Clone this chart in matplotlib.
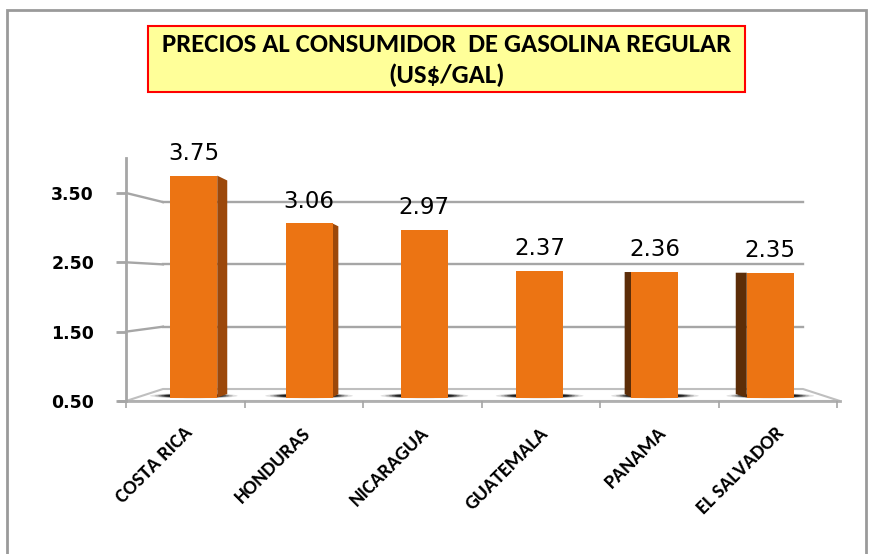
import matplotlib
matplotlib.use("Agg")
import matplotlib.pyplot as plt
from matplotlib import font_manager
from matplotlib.patches import Polygon, Rectangle, Ellipse
from matplotlib.transforms import offset_copy

# ---- data ----
countries = ["COSTA RICA", "HONDURAS", "NICARAGUA", "GUATEMALA", "PANAMA", "EL SALVADOR"]
prices = [3.75, 3.06, 2.97, 2.37, 2.36, 2.35]
yticks = [0.50, 1.50, 2.50, 3.50]
title_lines = ["PRECIOS AL CONSUMIDOR  DE GASOLINA REGULAR", "(US$/GAL)"]

avail = {f.name for f in font_manager.fontManager.ttflist}
def pick(cands):
    for c in cands:
        if c in avail:
            return c
    return "DejaVu Sans"
narrow = pick(["Carlito", "Lato", "Open Sans", "Liberation Sans"])

W, H = 869, 554
fig = plt.figure(figsize=(W / 100, H / 100), dpi=100)
fig.patch.set_facecolor("white")

# outer chart border
fig.patches.append(Rectangle((7 / W, -0.02), (866 - 7) / W, (H - 10) / H + 0.02,
                             transform=fig.transFigure, fill=False,
                             edgecolor="#9a9a9a", lw=2))

ax = fig.add_axes([126 / W, (H - 401) / H, (837 - 126) / W, (401 - 158.3) / H])
ax.set_xlim(-0.5, 5.5)
ax.set_ylim(0.5, 4.0)
ax.patch.set_alpha(0)
for s in ["top", "right", "bottom"]:
    ax.spines[s].set_visible(False)
ax.spines["left"].set_color("#a6a6a6")
ax.spines["left"].set_linewidth(2)

grid_c = "#a6a6a6"
# back wall mapping (perspective)
def back(v):
    return 0.673 + 0.8986 * (v - 0.5)
bx0, bx1 = -0.188, 5.213

# floor
floor = Polygon([(-0.5, 0.5), (bx0, back(0.5)), (bx1, back(0.5)), (5.525, 0.5)],
                closed=True, facecolor="white", edgecolor="#bfbfbf", lw=1.5,
                zorder=1, clip_on=False)
ax.add_patch(floor)
ax.plot([-0.56, 5.525], [0.5, 0.5], color="#b0b0b0", lw=2, zorder=1.5, clip_on=False)

# gridlines on back wall + connectors
for v in yticks[1:]:
    ax.plot([bx0, bx1], [back(v), back(v)], color=grid_c, lw=1.7, zorder=0.5, clip_on=False)
    ax.plot([-0.5, bx0], [v, back(v)], color=grid_c, lw=1.7, zorder=0.5, clip_on=False)

ax.set_yticks(yticks)
ax.set_yticklabels([f"{v:.2f}" for v in yticks], fontsize=12.5, fontweight="bold",
                   family="DejaVu Sans")
ax.tick_params(axis="y", length=7, width=2, color=grid_c, pad=16)

# category boundary ticks
ax.set_xticks([i - 0.5 for i in range(len(countries) + 1)])
ax.set_xticklabels([])
ax.tick_params(axis="x", length=5, width=1.2, color=grid_c, direction="out", pad=0)

n = len(countries)
px = 118.5  # pixels per category
xb = [i + (8.5 - 3.2 * i) / px for i in range(n)]
side = [(10 - 4.2 * i) / px for i in range(n)]
bw = 47 / px
front_c = "#ec7413"

for i, (x, v) in enumerate(zip(xb, prices)):
    # base shadow (soft black smudge)
    for k, (w, a) in enumerate([(0.74, 0.12), (0.66, 0.2), (0.6, 0.3),
                                (0.55, 0.45), (0.5, 0.6)]):
        ax.add_patch(Ellipse((x, 0.575), w, 0.075 - 0.008 * k, facecolor="black",
                             edgecolor="none", alpha=a, zorder=2))
    ax.bar(x, v - 0.55, bottom=0.55, width=bw, color=front_c, zorder=4,
           edgecolor="none")
    d = side[i]
    if abs(d * px) >= 3:
        if d > 0:
            xe = x + bw / 2
            col = "#9c480a"
            slant = 0.07 * d * px / 10
        else:
            xe = x - bw / 2
            col = "#5c2d08"
            slant = 0.0
        ax.add_patch(Polygon([(xe, v), (xe + d, v - slant),
                              (xe + d, 0.6), (xe, 0.55)], closed=True,
                             facecolor=col, edgecolor="none", zorder=3.5))
    ax.annotate(f"{v:.2f}", (x, v), xytext=(0, 11.5), textcoords="offset points",
                ha="center", va="baseline", fontsize=16.5, family="DejaVu Sans",
                color="black", zorder=6)

# category labels
for i, name in enumerate(countries):
    tr = offset_copy(ax.transData, fig=fig, x=4, y=-29, units="dots")
    ax.text(i, 0.5, name, transform=tr, rotation=45, rotation_mode="anchor",
            ha="right", va="center", fontsize=14.5, fontweight="bold",
            family=narrow, clip_on=False)

# title box
fig.patches.append(Rectangle((148 / W, 1 - 92 / H), (745 - 148) / W, (92 - 26) / H,
                             transform=fig.transFigure, facecolor="#ffff99",
                             edgecolor="#ff0000", lw=1.5, zorder=5))
t1 = fig.text(446.5 / W, 1 - 44 / H, title_lines[0], ha="center", va="center",
              fontsize=14, fontweight="bold", family=narrow, zorder=6)
t2 = fig.text(446.5 / W, 1 - 75 / H, title_lines[1], ha="center", va="center",
              fontsize=14, fontweight="bold", family=narrow, zorder=6)
fig.canvas.draw()
w = t1.get_window_extent().width
fs = 14 * 573 / w
t1.set_fontsize(fs)
t2.set_fontsize(fs)

fig.savefig("out.png", dpi=100, facecolor="white")
